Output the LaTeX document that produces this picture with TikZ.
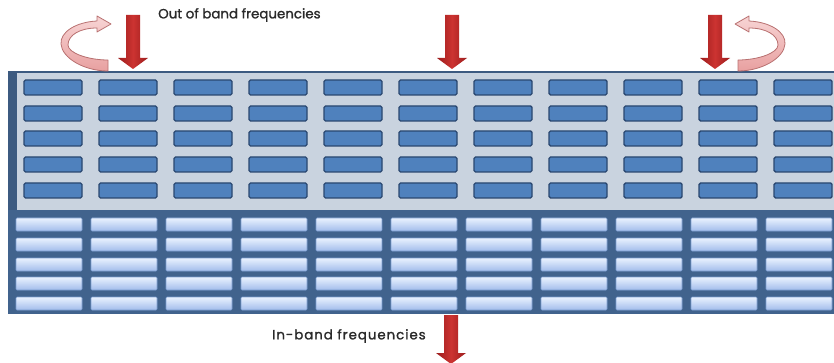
\documentclass[tikz,border=0pt]{standalone}
\usepackage{fontspec}
\setmainfont{Poppins}
\newfontfamily\outlabelfont[FakeBold=1.4]{Poppins}
\newfontfamily\inlabelfont[FakeBold=1.4, LetterSpace=7]{Poppins}

\definecolor{panelgrey}{HTML}{C9D3DF}
\definecolor{paneledge}{HTML}{3C5A80}
\definecolor{cellblue}{HTML}{4F81BD}
\definecolor{celledge}{HTML}{2A4770}
\definecolor{basenavy}{HTML}{41638D}
\definecolor{celltop}{HTML}{EAF2FF}
\definecolor{cellbottom}{HTML}{A2BDEB}
\definecolor{lowedge}{HTML}{7C9DD0}
\definecolor{arrowred}{HTML}{CC3331}
\definecolor{arrowdark}{HTML}{9C1D1D}
\definecolor{loopfill}{HTML}{F4C2C2}
\definecolor{loopdeep}{HTML}{E8A0A0}
\definecolor{loopedge}{HTML}{B87070}
\definecolor{labelgrey}{HTML}{2A2A2A}

\tikzset{
  upcell/.style={fill=cellblue, draw=celledge, line width=1.4pt, rounded corners=1.5pt},
  lowcell/.style={top color=celltop, bottom color=cellbottom, draw=lowedge, line width=0.6pt, rounded corners=1pt},
  bandlabel/.style={text=labelgrey, inner sep=0pt, anchor=west},
  % red drop arrow: shaft of given length, then a 11pt head
  pics/droparrow/.style={code={
    \path[left color=arrowdark, right color=arrowdark, middle color=arrowred]
      (-7,0) -- (7,0) -- (7,#1) -- (15,#1) -- (0,#1+11) -- (-15,#1) -- (-7,#1) -- cycle;
  }},
  % curled arrow that bends back over the top edge
  pics/looparrow/.style={code={
    \path[top color=loopfill!70!white, bottom color=loopdeep, draw=loopedge, line width=0.8pt, line join=round]
      (97,21) .. controls (76,22) and (60,32) .. (61,44)
      .. controls (62,58) and (84,71) .. (108,71)
      -- (108,60)
      .. controls (88,60) and (68,53) .. (68,45)
      .. controls (68,35) and (80,28) .. (97,28)
      -- (97,32) -- (111,24) -- (97,16) -- cycle;
  }}
}

\begin{document}
\begin{tikzpicture}[x=1pt, y=-1pt]
\useasboundingbox (0,0) rectangle (834,363);

% navy base carrying the in-band cells
\fill[basenavy] (8,209) rectangle (834,314);
% grey panel carrying the out-of-band cells
\fill[panelgrey] (8,71) rectangle (834,210);
\fill[paneledge] (8,71) rectangle (17,210);
\draw[paneledge, line width=2pt] (8,72) -- (834,72);

% out-of-band cells
\foreach \c in {0,...,10}
  \foreach \y in {80,106,131,157,183}
    \draw[upcell] (24+75*\c,\y) rectangle ++(58,15);

% in-band cells
\foreach \c in {0,...,10}
  \foreach \y in {218,238,258,277,297}
    \draw[lowcell] (16+75*\c,\y) rectangle ++(66,13);

% incoming arrows
\pic at (133,15) {droparrow=43};
\pic at (452,15) {droparrow=43};
\pic at (715,15) {droparrow=43};
\pic at (451,315) {droparrow=38};

% reflected arrows, left and mirrored right
\pic {looparrow};
\pic[xscale=-1] at (846,0) {looparrow};

% labels
\node[bandlabel, font=\outlabelfont\fontsize{13.4}{16}\selectfont] (outband) at (158,15) {Out of band frequencies};
\node[bandlabel, font=\inlabelfont\fontsize{13.4}{16}\selectfont] (inband) at (272,336) {In-band frequencies};
\end{tikzpicture}
\end{document}
